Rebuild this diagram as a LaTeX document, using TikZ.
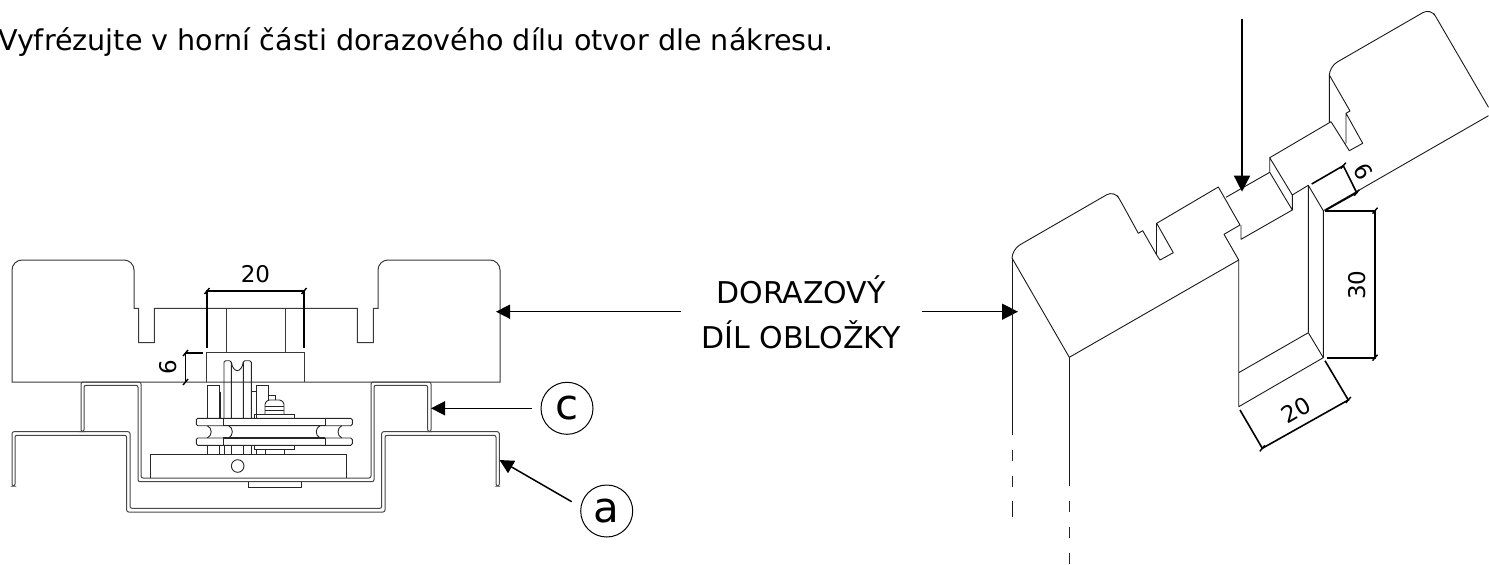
\documentclass[tikz,border=0pt]{standalone}
\usepackage{fontspec}
\setmainfont{DejaVu Sans}
\usetikzlibrary{arrows.meta}
\tikzset{
  outline/.style={draw=black!78,line width=1pt},
  metal/.style={draw=black!72,line width=1pt,rounded corners=2pt},
  mech/.style={draw=black!85,line width=0.9pt},
  iso/.style={draw=black!90,line width=0.9pt,line join=round},
  isobend/.style={iso,rounded corners=9pt},
  dimline/.style={draw=black,line width=1.6pt},
  dimtick/.style={draw=black,line width=1.4pt},
  arr/.style={draw=black,line width=1.5pt,-{Triangle[length=14pt,width=14pt]}},
  arrbig/.style={draw=black,line width=1.5pt,-{Triangle[length=16pt,width=16pt]}},
  dimlabel/.style={inner sep=0pt,font=\fontsize{23}{23}\selectfont},
  title/.style={inner sep=0pt,font=\fontsize{28.6}{32}\selectfont},
  partlabel/.style={inner sep=0pt,align=center,font=\fontsize{30}{45}\selectfont},
  callout/.style={circle,draw=black,line width=1pt,minimum size=52pt,inner sep=0pt,font=\fontsize{42}{42}\selectfont},
  dashv/.style={draw=black!85,line width=1pt,dash pattern=on 11pt off 15pt}
}
\newcommand{\dimslash}[2]{\draw[dimtick] (#1-2.5,#2+3) -- (#1+2.5,#2-3);}
\begin{document}
\begin{tikzpicture}[x=1pt,y=-1pt]
\useasboundingbox (0,0) rectangle (1489,565);

% title
\node[title,anchor=base west] (titletext) at (-2,50) {Vyfrézujte v horní části dorazového dílu otvor dle nákresu.};

% --- left drawing: stop profile
\draw[outline] (12,382) -- (12,270) [rounded corners=10pt] -- (12,260) -- (134,260) -- (134,285) [sharp corners] -- (134,308.3) -- (138.7,308.3) -- (138.7,342.7) -- (154.3,342.7) -- (154.3,308.3) -- (357.3,308.3) -- (357.3,342.7) -- (373.3,342.7) -- (373.3,308.3) -- (378,308.3) [rounded corners=10pt] -- (378,260) -- (500,260) -- (500,285) [sharp corners] -- (500,382) -- cycle;
\draw[outline] (226.7,308.3) -- (226.7,352.7) (285.3,308.3) -- (285.3,352.7);
\draw[outline] (206.7,382) -- (206.7,352.7) -- (304.3,352.7) -- (304.3,382);

% profile c
\draw[metal] (81,431.5) -- (81,382) -- (141,382) -- (141,478) -- (371,478) -- (371,382) -- (431,382) -- (431,431.5) -- (427.7,431.5) -- (427.7,385.3) -- (374,385.3) -- (374,481.7) -- (138,481.7) -- (138,385.3) -- (84,385.3) -- (84,431.5) -- cycle;
% profile a
\draw[metal] (12,486) -- (12,431.7) -- (130,431.7) -- (130,508.3) -- (381.7,508.3) -- (381.7,431.7) -- (499.3,431.7) -- (499.3,486) -- (496,486) -- (496,435.3) -- (385,435.3) -- (385,512) -- (126.7,512) -- (126.7,435.3) -- (15,435.3) -- (15,486) -- cycle;

% mechanism
\draw[mech] (150.7,478) -- (150.7,454) -- (346.7,454) -- (346.7,478);
\draw[mech] (237.7,466) circle (6.3);
\draw[mech] (248,482) -- (248,487.7) -- (301,487.7) -- (301,482);
\draw[mech,rounded corners=1.5pt] (196.3,418.3) rectangle (352.3,425.7);
\draw[mech,rounded corners=1.5pt] (196.3,438) rectangle (352.3,445.3);
\draw[mech,line width=1.2pt] (223.3,418.3) -- (223.3,425.7) (325.3,418.3) -- (325.3,425.7) (223.3,438) -- (223.3,445.3) (325.3,438) -- (325.3,445.3);
\draw[mech,line width=1.2pt] (223.3,425.7) -- (325.3,425.7) (223.3,438) -- (325.3,438);
\draw[mech] (207.3,425.7) .. controls (212.5,428) and (212.5,435.5) .. (207.3,438);
\draw[mech] (228.7,425.7) .. controls (233.5,428) and (233.5,435.5) .. (228.7,438);
\draw[mech] (320,425.7) .. controls (315,428) and (315,435.5) .. (320,438);
\draw[mech] (341.7,425.7) .. controls (336.8,428) and (336.8,435.5) .. (341.7,438);
\draw[mech,rounded corners=1.5pt] (224,418.3) -- (224,360.7) -- (231.3,360.7) -- (231.3,418.3);
\draw[mech,rounded corners=1.5pt] (243.3,418.3) -- (243.3,360.7) -- (251.3,360.7) -- (251.3,418.3);
\draw[mech] (231.3,362) .. controls (233,373.5) and (241.5,373.5) .. (243.3,362);
\draw[mech] (207.3,418.3) -- (207.3,385.3) -- (219.3,385.3) -- (219.3,418.3);
\draw[mech,line width=1.2pt] (220.7,391.7) -- (220.7,418.3);
\draw[mech] (251.3,391.7) -- (256,391.7) (256,418.3) -- (256,385.3) -- (268.3,385.3) -- (268.3,400);
\draw[mech] (254.7,418.3) -- (254.7,414.3) -- (294.7,414.3) -- (294.7,418.3);
\draw[mech] (254.7,445.3) -- (254.7,449) -- (294.7,449) -- (294.7,445.3);
\draw[mech,rounded corners=1.5pt] (265,414.3) -- (265,403) -- (268,400) -- (281,400) -- (284,403) -- (284,414.3);
\draw[mech] (265,406.7) -- (284,406.7) (265,410.3) -- (284,410.3);
\draw[mech] (268.7,400) -- (268.7,395) -- (275.7,395) -- (275.7,400);
\draw[mech] (207.3,445.3) -- (207.3,454) (219.3,445.3) -- (219.3,454) (224,445.3) -- (224,454) (231.3,445.3) -- (231.3,454) (243.3,445.3) -- (243.3,454) (251.3,445.3) -- (251.3,454) (256,449) -- (256,454) (265,449) -- (265,454) (284,449) -- (284,454);

% left dimensions
\coordinate (d20a) at (207,348);
\coordinate (d20b) at (207,291);
\coordinate (d20c) at (304,291);
\coordinate (d20d) at (304,348);
\draw[dimline] (d20a) -- (d20b) -- (d20c) -- (d20d);
\dimslash{207}{291}\dimslash{304}{291}
\node[dimlabel] (left20) at (255.5,274) {20};
\coordinate (d6a) at (203,353);
\coordinate (d6b) at (185.5,353);
\coordinate (d6c) at (185.5,382);
\draw[dimline] (d6a) -- (d6b) -- (d6c);
\dimslash{185.5}{353}\dimslash{185.5}{382}
\node[dimlabel,rotate=90] (left6) at (168,366.7) {6};

% labels and leaders
\node[partlabel] (partname) at (801,312) {DORAZOVÝ\\DÍL OBLOŽKY};
\coordinate (leadL) at (680.5,311.7);
\coordinate (tipL) at (496,311.7);
\coordinate (leadR) at (922,311.7);
\coordinate (tipR) at (1018,311.7);
\draw[arr] (leadL) -- (tipL);
\draw[arrbig] (leadR) -- (tipR);
\node[callout] (cc) at (567,408.3) {c};
\node[callout] (ca) at (606.7,511) {a};
\coordinate (tailc) at (532,408.3);
\coordinate (tipc) at (431,408.3);
\draw[arr] (tailc) -- (tipc);
\coordinate (taila) at (571.7,501.7);
\coordinate (tipa) at (499.5,460);
\draw[arr] (taila) -- (tipa);

% --- right drawing: isometric
\draw[iso] (1012,258) [rounded corners=9pt] -- (1012,249.4) -- (1114.4,190.3) -- (1122,203.5) [sharp corners] -- (1138.3,233.3) -- (1142.7,230.7) -- (1156.7,255) -- (1160,260) -- (1173.3,252.7) -- (1156.7,223.3) -- (1218.3,187) -- (1240,225) -- (1224,234.3) -- (1238.7,260) -- (1069.3,357.3) -- (1012,258);
\draw[iso] (1156.7,223.3) -- (1156.7,255);
\draw[iso] (1012,258) -- (1012,435);
\draw[iso] (1069.3,357.3) -- (1069.3,486);
\draw[dashv] (1012,450) -- (1012,488);
\draw[iso,line width=1pt] (1012,501) -- (1012,517);
\draw[dashv] (1069.3,501) -- (1069.3,565);
\draw[iso] (1238.7,260) -- (1238.7,406.7) -- (1323.3,357.7) -- (1308.3,332.7) -- (1238.7,372.7);
\draw[iso] (1308.3,332.7) -- (1308.3,185.3) -- (1323.3,210.7) -- (1323.3,357.7);
\draw[iso] (1308.3,185.3) -- (1292.3,195) -- (1269.7,157.7) -- (1269.7,172.3) -- (1292.3,210) -- (1292.3,195);
\draw[iso] (1292.3,210) -- (1241,239.3) -- (1241,225);
\draw[iso] (1269.7,172.3) -- (1226,197.3);
\draw[iso] (1269.7,157.7) -- (1331,121.7) -- (1349.3,150.7) -- (1362.7,143.3) -- (1346,113.3) -- (1346,143.3);
\draw[iso] (1346,113.3) -- (1350,111) -- (1329.3,75) -- (1329.3,122);
\draw[isobend] (1329.3,75) -- (1329.3,66.6) -- (1430.7,8.1) -- (1438.5,21.4) [sharp corners] -- (1488.5,107.3);
\draw[iso] (1488.5,115.7) -- (1323.3,210.7);

\coordinate (lead9) at (1242,19);
\coordinate (tip9) at (1242,191.7);
\draw[arrbig] (lead9) -- (tip9);

% right dimensions
\coordinate (i6a) at (1311.7,184);
\coordinate (i6b) at (1343.3,165.7);
\coordinate (i6c) at (1356.7,192.7);
\coordinate (i6d) at (1326,210);
\draw[dimline] (i6a) -- (i6b) -- (i6c) -- (i6d);
\dimslash{1343.3}{165.7}\dimslash{1356.7}{192.7}
\node[dimlabel,rotate=-60] (iso6) at (1363,171.7) {6};
\coordinate (i30a) at (1325,210.7);
\coordinate (i30b) at (1375,210.7);
\coordinate (i30c) at (1375,357.7);
\coordinate (i30d) at (1327,357.7);
\draw[dimline] (i30a) -- (i30b) -- (i30c) -- (i30d);
\dimslash{1375}{210.7}\dimslash{1375}{357.7}
\node[dimlabel,rotate=90] (iso30) at (1357,285) {30};
\coordinate (i20a) at (1240,410);
\coordinate (i20b) at (1262.3,448.3);
\coordinate (i20c) at (1348.3,400);
\coordinate (i20d) at (1325,360.7);
\draw[dimline] (i20a) -- (i20b) -- (i20c) -- (i20d);
\dimslash{1262.3}{448.3}\dimslash{1348.3}{400}
\node[dimlabel,rotate=30] (iso20) at (1296,410) {20};
\end{tikzpicture}
\end{document}
